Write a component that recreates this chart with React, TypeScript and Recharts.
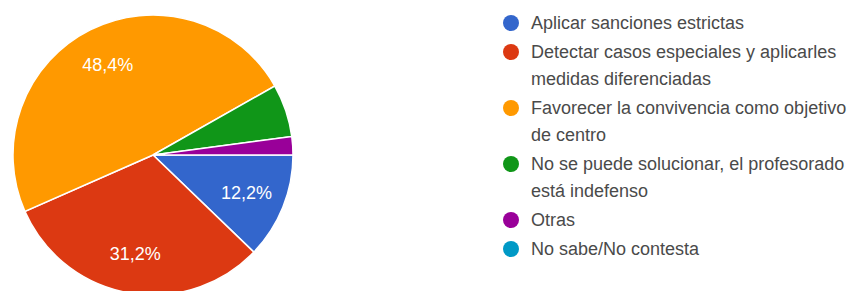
import React from "react";
import { PieChart, Pie, Cell } from "recharts";

const categories: string[] = [
  "Aplicar sanciones estrictas",
  "Detectar casos especiales y aplicarles medidas diferenciadas",
  "Favorecer la convivencia como objetivo de centro",
  "No se puede solucionar, el profesorado está indefenso",
  "Otras",
  "No sabe/No contesta",
];
const percents: number[] = [12.2, 31.2, 48.4, 6.1, 2.1, 0];
const colors: string[] = ["#3366cc", "#dc3912", "#ff9900", "#109618", "#990099", "#0099c6"];

const data = categories.map((name, i) => ({ name, value: percents[i] }));

const RADIAN = Math.PI / 180;

const renderLabel = (props: any) => {
  const { cx, cy, midAngle, outerRadius, value } = props;
  if (value < 10) return null;
  const r = outerRadius * 0.72;
  const x = cx + r * Math.cos(-midAngle * RADIAN);
  const y = cy + r * Math.sin(-midAngle * RADIAN);
  return (
    <text
      x={x}
      y={y}
      fill="#ffffff"
      textAnchor="middle"
      dominantBaseline="central"
      fontFamily="'Liberation Sans', Arial, sans-serif"
      fontSize={18}
    >
      {value.toFixed(1).replace(".", ",") + "%"}
    </text>
  );
};

const LegendBox = () => (
  <div
    style={{
      position: "absolute",
      left: 503,
      top: 9.5,
      width: 360,
      fontFamily: "'Liberation Sans', Arial, sans-serif",
      fontSize: 18,
      color: "#4a4a4a",
    }}
  >
    {categories.map((c, i) => (
      <div key={c} style={{ display: "flex", alignItems: "flex-start", marginBottom: 2, lineHeight: "27px" }}>
        <span
          style={{
            display: "inline-block",
            width: 16,
            height: 16,
            borderRadius: "50%",
            background: colors[i],
            marginTop: 5.5,
            marginRight: 12,
            flex: "0 0 auto",
          }}
        />
        <span style={{ maxWidth: 330 }}>{c}</span>
      </div>
    ))}
  </div>
);

export default function App() {
  return (
    <div style={{ position: "absolute", left: 0, top: 0, width: 864, height: 291, overflow: "hidden", background: "#fff" }}>
      <PieChart width={864} height={300} margin={{ top: 0, right: 0, bottom: 0, left: 0 }}>
        <Pie
          data={data}
          dataKey="value"
          nameKey="name"
          cx={153}
          cy={155}
          outerRadius={140}
          startAngle={0}
          endAngle={-360}
          stroke="#ffffff"
          strokeWidth={1.5}
          label={renderLabel}
          labelLine={false}
          isAnimationActive={false}
        >
          {data.map((d, i) => (
            <Cell key={d.name} fill={colors[i]} />
          ))}
        </Pie>
      </PieChart>
      <LegendBox />
    </div>
  );
}
